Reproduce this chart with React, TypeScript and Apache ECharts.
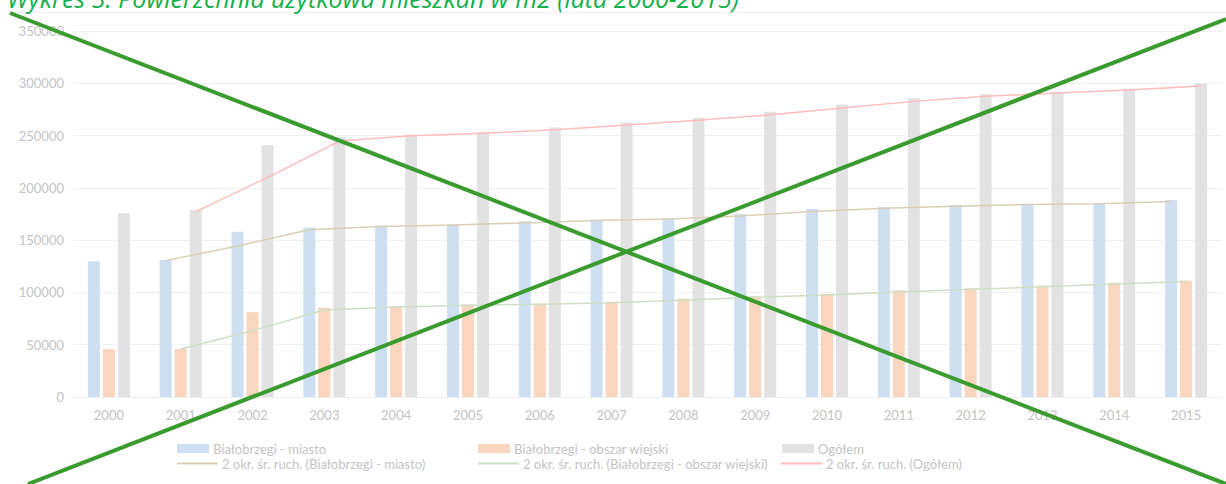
import React, { useEffect, useRef } from "react";
import * as echarts from "echarts";

const years = ["2000","2001","2002","2003","2004","2005","2006","2007","2008","2009","2010","2011","2012","2013","2014","2015"];
const miasto = [129800,131000,158000,162000,164000,165000,168000,169500,171000,175000,179800,181400,183600,184500,185300,188500];
const wiejski = [45800,45900,81000,85300,86900,88500,89100,91000,94200,96500,98700,102000,104000,106700,109300,111500];
const ogolem = [175600,179000,240700,248700,251000,253500,257700,262500,267000,272800,279800,285600,289400,292000,295000,300000];

const yTicks = { min: 0, max: 350000, interval: 50000 };

const NAMES = {
  m: "Białobrzegi - miasto",
  w: "Białobrzegi - obszar wiejski",
  o: "Ogółem",
  mm: "2 okr. śr. ruch. (Białobrzegi - miasto)",
  mw: "2 okr. śr. ruch. (Białobrzegi - obszar wiejski)",
  mo: "2 okr. śr. ruch. (Ogółem)",
};

const TITLE = "Wykres 3. Powierzchnia użytkowa mieszkań w m2 (lata 2000-2015)";

const W = 1226, H = 484;
const GRID = { left: 73, right: 4, top: 31, bottom: 87 };
const BAR_W = 12, BAR_GAP_PX = 3;

function movingAvg(vals: number[], offsetPx: number, catW: number): number[][] {
  const out: number[][] = [];
  for (let i = 1; i < vals.length; i++) {
    out.push([i + 0.5 + offsetPx / catW, (vals[i] + vals[i - 1]) / 2]);
  }
  return out;
}

export default function App() {
  const ref = useRef<HTMLDivElement>(null);
  useEffect(() => {
    if (!ref.current) return;
    const chart = echarts.init(ref.current, null, { renderer: "svg" });
    const catW = (W - GRID.left - GRID.right) / years.length;
    const off = BAR_W + BAR_GAP_PX;
    const font = "Lato, 'Noto Sans', sans-serif";
    const txtColor = "#c4c4c4";
    const colors = {
      m: "#cddff1", w: "#f9d6bd", o: "#e2e2e2",
      mm: "#d9cfb6", mw: "#cfdfc6", mo: "#ffbcbc",
    };
    const legendItem = (name: string, left: number, top: number, line: boolean) => ({
      data: [name],
      left, top,
      orient: "horizontal",
      itemWidth: line ? 41 : 32,
      itemHeight: line ? 2 : 9,
      icon: "rect",
      itemGap: 0,
      padding: 0,
      textStyle: { color: txtColor, fontSize: 13, fontFamily: font, padding: [0, 0, 0, -1] },
      selectedMode: false,
    });
    chart.setOption({
      animation: false,
      backgroundColor: "#ffffff",
      grid: { ...GRID, containLabel: false },
      legend: [
        legendItem(NAMES.m, 177, 442, false),
        legendItem(NAMES.w, 478, 442, false),
        legendItem(NAMES.o, 782, 442, false),
        legendItem(NAMES.mm, 177, 457, true),
        legendItem(NAMES.mw, 478, 457, true),
        legendItem(NAMES.mo, 781, 457, true),
      ],
      xAxis: [
        {
          type: "category",
          data: years,
          axisTick: { show: false },
          axisLine: { lineStyle: { color: "#eeeeee", width: 1 } },
          axisLabel: { color: txtColor, fontSize: 13, fontFamily: font, margin: 11 },
        },
        { type: "value", min: 0, max: years.length, show: false },
      ],
      yAxis: {
        type: "value",
        ...yTicks,
        axisLine: { show: false },
        axisTick: { show: false },
        splitLine: { lineStyle: { color: "#f1f1f1", width: 1 } },
        axisLabel: { color: txtColor, fontSize: 13, fontFamily: font, margin: 9, formatter: (v: number) => String(v) },
      },
      series: [
        { name: NAMES.m, type: "bar", data: miasto, barWidth: BAR_W, barGap: (BAR_GAP_PX / BAR_W * 100) + "%", itemStyle: { color: colors.m } },
        { name: NAMES.w, type: "bar", data: wiejski, barWidth: BAR_W, barGap: (BAR_GAP_PX / BAR_W * 100) + "%", itemStyle: { color: colors.w } },
        { name: NAMES.o, type: "bar", data: ogolem, barWidth: BAR_W, barGap: (BAR_GAP_PX / BAR_W * 100) + "%", itemStyle: { color: colors.o } },
        { name: NAMES.mm, type: "line", xAxisIndex: 1, data: movingAvg(miasto, -off, catW), symbol: "none", lineStyle: { color: colors.mm, width: 1.5 }, itemStyle: { color: colors.mm } },
        { name: NAMES.mw, type: "line", xAxisIndex: 1, data: movingAvg(wiejski, 0, catW), symbol: "none", lineStyle: { color: colors.mw, width: 1.5 }, itemStyle: { color: colors.mw } },
        { name: NAMES.mo, type: "line", xAxisIndex: 1, data: movingAvg(ogolem, off, catW), symbol: "none", lineStyle: { color: colors.mo, width: 1.5 }, itemStyle: { color: colors.mo } },
      ],
      graphic: [
        { type: "line", shape: { x1: 8, y1: 12.5, x2: W, y2: 12.5 }, style: { stroke: "#ececec", lineWidth: 1 }, z: 1 },
        {
          type: "text", left: 7, top: -15, z: 10,
          style: { text: TITLE, fill: "#12b04c", fontSize: 25, fontStyle: "italic", fontFamily: "'Open Sans', 'Noto Sans', sans-serif" },
        },
        { type: "line", shape: { x1: 10, y1: 13, x2: W, y2: 484 }, style: { stroke: "#3a9c2e", lineWidth: 4 }, z: 100 },
        { type: "line", shape: { x1: 28, y1: 484, x2: W, y2: 19 }, style: { stroke: "#3a9c2e", lineWidth: 4 }, z: 100 },
      ],
    });
    return () => chart.dispose();
  }, []);
  return <div ref={ref} style={{ position: "absolute", left: 0, top: 0, width: W, height: H }} />;
}
